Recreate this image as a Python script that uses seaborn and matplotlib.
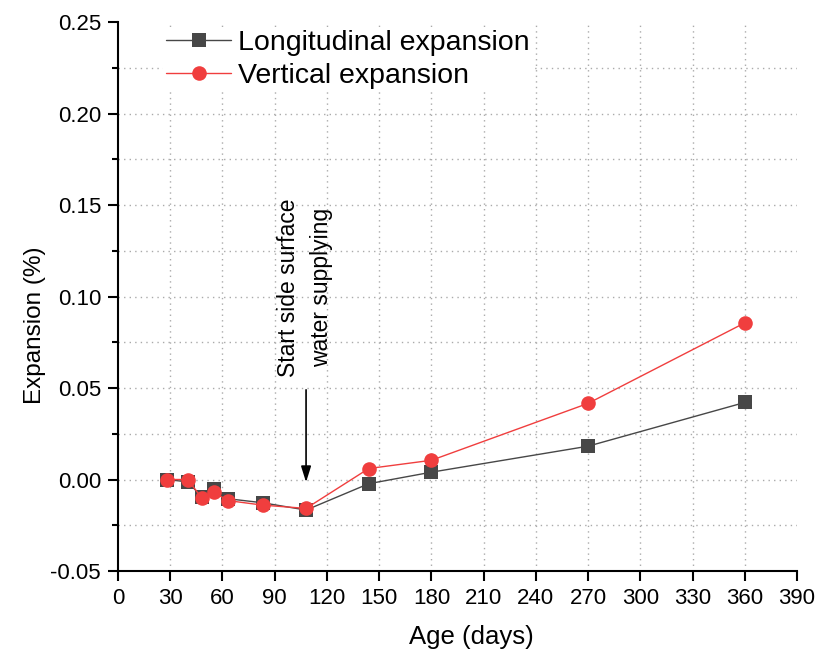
import matplotlib
matplotlib.use("Agg")
import matplotlib.pyplot as plt
from matplotlib import font_manager
from matplotlib.ticker import MultipleLocator, FormatStrFormatter
import seaborn as sns
import pandas as pd

# Measured expansion of the specimens over time
age_days = [28, 40, 48, 55, 63, 83, 108, 144, 180, 270, 360]
longitudinal = [0.000, -0.0013, -0.0093, -0.0051, -0.0105, -0.0127, -0.0167,
                -0.0023, 0.0040, 0.0182, 0.0421]
vertical = [0.000, 0.000, -0.0100, -0.0069, -0.0115, -0.0140, -0.0158,
            0.0060, 0.0105, 0.0416, 0.0856]

series_names = ["Longitudinal expansion", "Vertical expansion"]
series_colors = ["#474747", "#f03e3e"]
series_markers = ["s", "o"]

x_ticks = list(range(0, 391, 30))
y_ticks = [-0.05, 0.00, 0.05, 0.10, 0.15, 0.20, 0.25]

note_text = "Start side surface\nwater supplying"
note_day = 108

sns.set_theme(style="white")
installed = {f.name for f in font_manager.fontManager.ttflist}
regular = "Liberation Sans"
narrow = "Liberation Sans Narrow" if "Liberation Sans Narrow" in installed else regular
plt.rcParams["font.family"] = [regular, "DejaVu Sans"]
plt.rcParams.update({"text.color": "black", "axes.labelcolor": "black",
                     "xtick.color": "black", "ytick.color": "black"})

df = pd.DataFrame({"age": age_days, "long": longitudinal, "vert": vertical})

fig = plt.figure(figsize=(8.22, 6.57), dpi=100)
ax = fig.add_axes([0.1436, 0.1309, 0.8260, 0.8356])

for col, name, color, mk, ms in zip(["long", "vert"], series_names,
                                    series_colors, series_markers, [9.5, 10.5]):
    sns.lineplot(data=df, x="age", y=col, ax=ax, color=color, marker=mk,
                 markersize=ms, markeredgewidth=0, linewidth=1.0, label=name,
                 sort=False, zorder=3)

ax.set_xlim(0, 390)
ax.set_ylim(-0.05, 0.25)
ax.set_xticks(x_ticks)
ax.set_yticks(y_ticks)
ax.yaxis.set_minor_locator(MultipleLocator(0.025))
ax.yaxis.set_major_formatter(FormatStrFormatter("%.2f"))

for side in ["top", "right"]:
    ax.spines[side].set_visible(False)
for side in ["left", "bottom"]:
    ax.spines[side].set_color("black")
    ax.spines[side].set_linewidth(1.5)

ax.tick_params(axis="both", which="major", direction="out", length=7.2,
               width=1.5, color="black", pad=5, bottom=True, left=True,
               labelcolor="black")
ax.tick_params(axis="y", which="minor", direction="out", length=4,
               width=1.5, color="black", left=True)
for lbl in ax.get_yticklabels():
    lbl.set_fontfamily(regular)
    lbl.set_fontsize(16)
for lbl in ax.get_xticklabels():
    lbl.set_fontfamily(narrow)
    lbl.set_fontsize(16)

grid_kw = dict(color="#aaaaaa", linestyle=(0, (1, 3)), linewidth=1.0, zorder=0)
for d in x_ticks[1:-1]:
    ax.axvline(d, **grid_kw)
for v in [-0.025, 0.0, 0.025, 0.05, 0.075, 0.10, 0.125, 0.15, 0.175, 0.20, 0.225]:
    ax.axhline(v, **grid_kw)

ax.set_xlabel("Age (days)", fontsize=18.5, family=narrow)
ax.set_ylabel("Expansion (%)", fontsize=17.5, family=narrow)
ax.xaxis.set_label_coords(0.521, -0.099)
ax.yaxis.set_label_coords(-0.106, 0.448)

ax.annotate("", xy=(note_day, -0.0015), xytext=(note_day, 0.049),
            arrowprops=dict(arrowstyle="-|>,head_length=0.8,head_width=0.25",
                            color="black", lw=1.2, shrinkA=0, shrinkB=0),
            zorder=4)
ax.text(107.3, 0.105, note_text, rotation=90, ha="center", va="center",
        fontsize=16.5, family=regular, linespacing=1.55, multialignment="center")

leg = ax.legend(loc="upper left", bbox_to_anchor=(163 / 822, 1 - 27 / 657),
                bbox_transform=fig.transFigure, fontsize=20.5, frameon=True,
                facecolor="white", edgecolor="none", framealpha=1,
                borderpad=0.1, borderaxespad=0, handlelength=2.3,
                handletextpad=0.25, labelspacing=0.25, fancybox=False)
leg.set_zorder(5)

fig.savefig("out.png", dpi=100)
